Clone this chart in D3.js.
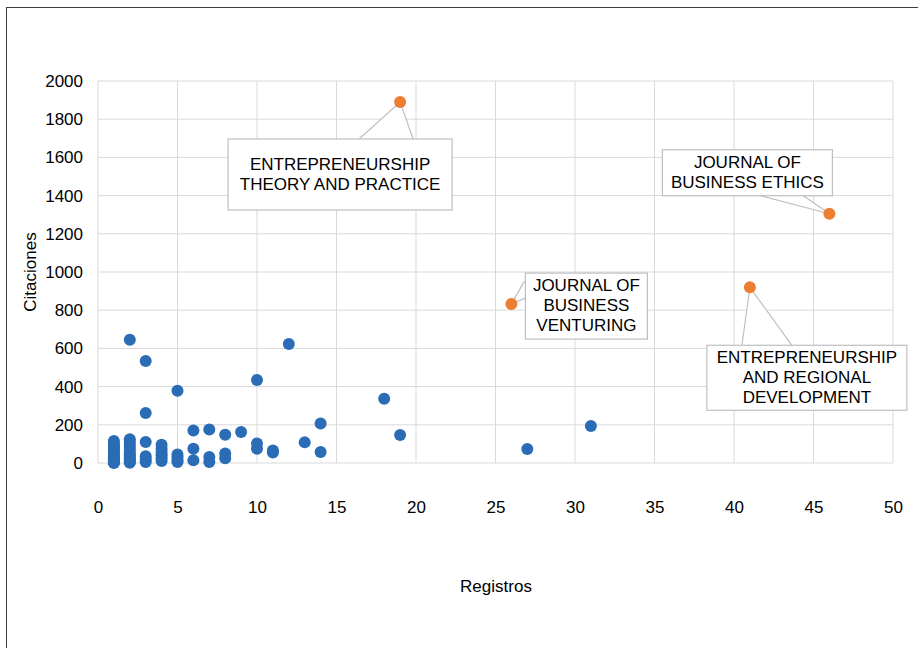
<!DOCTYPE html>
<html>
<head>
<meta charset="utf-8">
<script src="https://cdn.jsdelivr.net/npm/d3@7"></script>
<style>
  body { margin: 0; background: #fff; }
  svg { display: block; font-family: "Liberation Sans", Arial, sans-serif; }
</style>
</head>
<body>
<div id="chart"></div>
<script>
// Registros (x) and Citaciones (y) for each journal
const registros = [
  1, 1, 1, 1, 1, 1, 1, 1, 1, 1, 1, 1, 1, 1,
  2, 2, 2, 2, 2, 2, 2, 2, 2, 2, 2, 2, 2,
  3, 3, 3, 3, 3, 3,
  4, 4, 4, 4, 4, 4,
  5, 5, 5, 5, 5,
  6, 6, 6,
  7, 7, 7,
  8, 8, 8,
  9,
  10, 10, 10,
  11, 11,
  12,
  13,
  14, 14,
  18, 19, 27, 31
];
const citaciones = [
  115, 100, 90, 80, 70, 60, 50, 40, 30, 20, 12, 6, 2, 0,
  645, 125, 110, 95, 80, 65, 50, 40, 30, 20, 10, 5, 1,
  534, 262, 110, 35, 18, 5,
  95, 75, 55, 40, 25, 10,
  378, 45, 30, 15, 5,
  170, 75, 15,
  175, 32, 5,
  148, 50, 25,
  162,
  435, 102, 75,
  65, 55,
  623,
  108,
  207, 57,
  336, 147, 73, 194
];

// highlighted journals
const topNames = [
  ["ENTREPRENEURSHIP", "THEORY AND PRACTICE"],
  ["JOURNAL OF", "BUSINESS", "VENTURING"],
  ["ENTREPRENEURSHIP", "AND REGIONAL", "DEVELOPMENT"],
  ["JOURNAL OF", "BUSINESS ETHICS"]
];
const topRegistros = [19, 26, 41, 46];
const topCitaciones = [1890, 832, 920, 1305];

const xTicks = [0, 5, 10, 15, 20, 25, 30, 35, 40, 45, 50];
const yTicks = [0, 200, 400, 600, 800, 1000, 1200, 1400, 1600, 1800, 2000];

// callout boxes: offset of box (left, top) from point, box size, wedge base on box edge
const callouts = [
  { dx: -172, dy: 37, w: 224, h: 71, wedge: [[-41, 37], [13, 37]] },
  { dx: 14, dy: -31, w: 122, h: 66, wedge: [[13, -23], [14, -6]] },
  { dx: -43, dy: 58, w: 200, h: 65, wedge: [[-8, 58], [42, 58]] },
  { dx: -167, dy: -64, w: 170, h: 46, wedge: [[-69, -18], [-26, -18]] }
];

const width = 918, height = 648;
const margin = { left: 98, right: 25, top: 81, bottom: 185 };
const blue = "#2a6cb6", orange = "#ed7d31";

const svg = d3.select("#chart").append("svg")
  .attr("width", width).attr("height", height);

svg.append("rect")
  .attr("x", 6.5).attr("y", 7.5).attr("width", 940).attr("height", 700)
  .attr("fill", "#fff").attr("stroke", "#404040").attr("stroke-width", 1);

const x = d3.scaleLinear().domain([0, 50]).range([margin.left, width - margin.right]);
const y = d3.scaleLinear().domain([0, 2000]).range([height - margin.bottom, margin.top]);

// grid
svg.append("g").selectAll("line").data(xTicks).join("line")
  .attr("x1", d => x(d)).attr("x2", d => x(d))
  .attr("y1", y(0)).attr("y2", y(2000))
  .attr("stroke", "#d9d9d9").attr("stroke-width", 1);
svg.append("g").selectAll("line").data(yTicks).join("line")
  .attr("x1", x(0)).attr("x2", x(50))
  .attr("y1", d => y(d)).attr("y2", d => y(d))
  .attr("stroke", "#d9d9d9").attr("stroke-width", 1);

// axes
const xAxis = d3.axisBottom(x).tickValues(xTicks).tickSize(0).tickPadding(38).tickFormat(d3.format("d"));
const yAxis = d3.axisLeft(y).tickValues(yTicks).tickSize(0).tickPadding(15).tickFormat(d3.format("d"));

svg.append("g").attr("transform", `translate(0,${y(0)})`).call(xAxis)
  .call(g => g.select(".domain").remove())
  .selectAll("text").attr("font-size", 17).attr("fill", "#000")
  .attr("font-family", "Liberation Sans, Arial, sans-serif");
svg.append("g").attr("transform", `translate(${x(0)},0)`).call(yAxis)
  .call(g => g.select(".domain").remove())
  .selectAll("text").attr("font-size", 17).attr("fill", "#000")
  .attr("font-family", "Liberation Sans, Arial, sans-serif");

svg.append("text").attr("x", 496).attr("y", 592).attr("text-anchor", "middle")
  .attr("font-size", 17).text("Registros");
svg.append("text").attr("transform", `translate(36,${(y(0) + y(2000)) / 2}) rotate(-90)`)
  .attr("text-anchor", "middle").attr("font-size", 17).text("Citaciones");

// points
const pts = registros.map((r, i) => ({ r, c: citaciones[i] }));
svg.append("g").selectAll("circle").data(pts).join("circle")
  .attr("cx", d => x(d.r)).attr("cy", d => y(d.c)).attr("r", 6)
  .attr("fill", blue);

// highlighted journals with callouts
const highlights = topRegistros.map((r, i) => ({ r, c: topCitaciones[i], lines: topNames[i], co: callouts[i] }));
const ann = svg.append("g");
highlights.forEach(d => {
  const px = x(d.r), py = y(d.c), co = d.co;
  ann.append("path")
    .attr("d", `M${px + co.wedge[0][0]},${py + co.wedge[0][1]}L${px},${py}L${px + co.wedge[1][0]},${py + co.wedge[1][1]}`)
    .attr("fill", "#fff").attr("stroke", "#bfbfbf").attr("stroke-width", 1.2);
  const bx = px + co.dx, by = py + co.dy;
  ann.append("rect").attr("x", bx).attr("y", by).attr("width", co.w).attr("height", co.h)
    .attr("fill", "#fff").attr("stroke", "#bfbfbf").attr("stroke-width", 1.2);
  const lh = 20;
  const t0 = by + co.h / 2 - (d.lines.length - 1) * lh / 2 + 5;
  d.lines.forEach((l, j) => {
    ann.append("text").attr("x", bx + co.w / 2).attr("y", t0 + j * lh)
      .attr("text-anchor", "middle").attr("font-size", 17).attr("fill", "#000").text(l);
  });
});
ann.selectAll(null).data(highlights).join("circle")
  .attr("cx", d => x(d.r)).attr("cy", d => y(d.c)).attr("r", 6)
  .attr("fill", orange);
</script>
</body>
</html>
